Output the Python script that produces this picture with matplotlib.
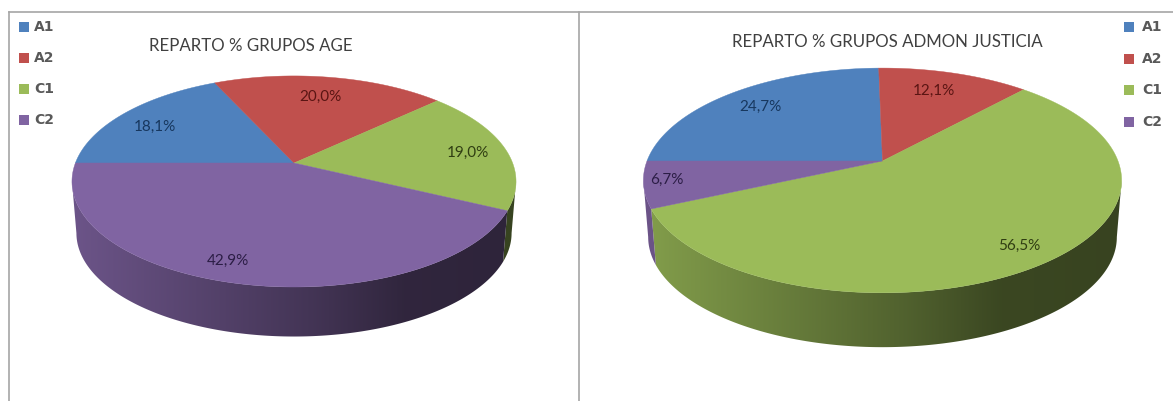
import matplotlib
matplotlib.use('Agg')
import matplotlib.pyplot as plt
import numpy as np
from matplotlib.colors import to_rgb
from matplotlib.patches import Polygon

categorias = ['A1', 'A2', 'C1', 'C2']
valores_age = [18.1, 20.0, 19.0, 42.9]
valores_justicia = [24.7, 12.1, 56.5, 6.7]
etiquetas_age = ['18,1%', '20,0%', '19,0%', '42,9%']
etiquetas_justicia = ['24,7%', '12,1%', '56,5%', '6,7%']
colores = ['#4F81BD', '#C0504D', '#9BBB59', '#8064A2']
texto_etiquetas = ['#17375E', '#5A1513', '#2F3D12', '#2B1D45']

plt.rcParams['font.family'] = ['Lato', 'DejaVu Sans']

fig = plt.figure(figsize=(11.73, 4.01), dpi=100)
ax = fig.add_axes([0, 0, 1, 1])


def proyectar(ang, cx, cy, w, a, k, escala=1.0, dy=0.0):
    # circulo unidad visto en perspectiva
    x = np.cos(ang)
    y = np.sin(ang)
    d = 1 + k * y
    return cx + escala * w * x / d, cy + dy - escala * a * y / d


def tarta(valores, cx, cy, w, a, k, fondo):
    angulos = np.pi - np.deg2rad(np.cumsum([0] + valores) * 3.6)
    # puntos de tangencia de la silueta
    tope = np.arcsin(k)

    # lateral, con el degradado de izquierda a derecha
    for i, color in enumerate(colores):
        ini = min(angulos[i], -tope)
        fin = max(angulos[i + 1], -np.pi + tope)
        if ini - fin < 1e-6:
            continue
        t = np.linspace(ini, fin, 200)
        x0, y0 = proyectar(t, cx, cy, w, a, k)
        x1, y1 = proyectar(t, cx, cy, w, a, k, 0.98, fondo)
        borde = np.c_[np.r_[x0, x1[::-1]], np.r_[y0, y1[::-1]]]
        izq, der = borde[:, 0].min() - 1, borde[:, 0].max() + 1
        sup, inf = borde[:, 1].min() - 1, borde[:, 1].max() + 1
        pos = np.linspace(izq, der, 400)
        f = np.interp((pos - cx) / w, [-1, -0.45, 0.1, 0.5, 1], [0.84, 0.68, 0.52, 0.38, 0.36])
        img = np.array(to_rgb(color))[None, None, :] * f[None, :, None]
        im = ax.imshow(img, extent=(izq, der, inf, sup), aspect='auto', zorder=2,
                       interpolation='bilinear')
        im.set_clip_path(Polygon(borde, closed=True, transform=ax.transData))

    # cara superior
    for i, color in enumerate(colores):
        t = np.linspace(angulos[i], angulos[i + 1], 160)
        x0, y0 = proyectar(t, cx, cy, w, a, k)
        ax.fill(np.r_[cx, x0], np.r_[cy, y0], color=color, lw=0.3, zorder=3)


tarta(valores_age, 294, 163, 218.6, 102.3, 0.175, 52)
tarta(valores_justicia, 882.5, 161, 235.5, 109, 0.173, 57)

ax.set_xlim(0, 1173)
ax.set_ylim(401, 0)
ax.axis('off')

# marco
for xs, ys in [([8.5, 1173], [12, 12]), ([8.5, 8.5], [12, 401]), ([579, 579], [12, 401])]:
    ax.plot(xs, ys, color='#A6A6A6', lw=1.2, zorder=1)

# titulos
ax.text(250.5, 46, 'REPARTO % GRUPOS AGE', ha='center', va='center', fontsize=12.2,
        color='#404040')
ax.text(887, 42, 'REPARTO % GRUPOS ADMON JUSTICIA', ha='center', va='center', fontsize=12.2,
        color='#404040')

# porcentajes
pos_age = [(155, 127), (320, 97), (468, 153), (228, 261)]
pos_justicia = [(760, 107), (934, 91), (1019, 246), (667, 180)]
for (x, y), s, c in zip(pos_age, etiquetas_age, texto_etiquetas):
    ax.text(x, y, s, ha='center', va='center', fontsize=11, color=c, zorder=4)
for (x, y), s, c in zip(pos_justicia, etiquetas_justicia, texto_etiquetas):
    ax.text(x, y, s, ha='center', va='center', fontsize=11, color=c, zorder=4)

# leyendas
for lx, tx, ys in [(24, 34, [27, 58, 89, 120]), (1129, 1142, [27, 59, 90, 122])]:
    for nombre, color, y in zip(categorias, colores, ys):
        ax.scatter([lx], [y], marker='s', s=62, color=color, lw=0, zorder=4)
        ax.text(tx, y, nombre, ha='left', va='center', fontsize=10, color='#595959',
                fontfamily='DejaVu Sans', fontweight='bold')

fig.savefig('out.png', dpi=100)
